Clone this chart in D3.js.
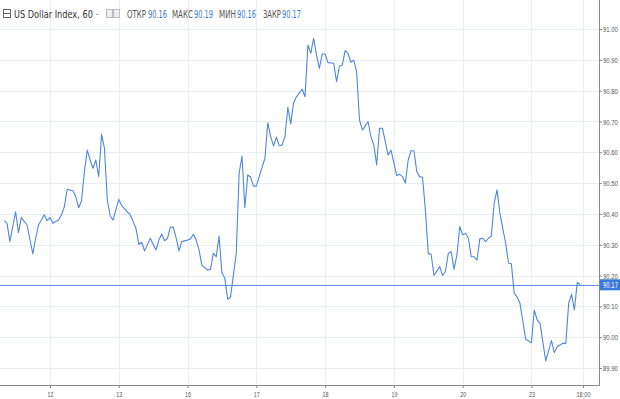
<!DOCTYPE html>
<html>
<head>
<meta charset="utf-8">
<script src="https://cdn.jsdelivr.net/npm/d3@7"></script>
<style>
  body { margin: 0; background: #fff; }
  svg { display: block; font-family: "DejaVu Sans", "Liberation Sans", sans-serif; }
</style>
</head>
<body>
<svg id="chart" width="620" height="399"></svg>
<script>
// hourly bars, index 0 = first bar on screen
const bars = [0, 1, 2, 4, 5, 6, 8, 10, 11, 12, 14, 15, 16, 17, 19, 20, 21, 22, 24, 25,
  26, 27, 28, 29, 30, 31, 32, 33, 34, 35, 36, 37, 38, 40, 41, 43, 44, 46, 47, 48,
  49, 51, 53, 54, 55, 56, 57, 58, 59, 60, 61, 62, 64, 65, 66, 67, 68, 69, 71, 72,
  73, 74, 75, 76, 77, 78, 79, 81, 82, 83, 84, 85, 86, 87, 88, 89, 91, 92, 93, 94,
  95, 96, 97, 98, 99, 100, 101, 102, 104, 105, 106, 107, 108, 109, 110, 111, 112, 113, 115, 116,
  117, 118, 119, 120, 121, 122, 123, 124, 125, 127, 128, 129, 130, 131, 132, 134, 135, 137, 138, 139,
  140, 141, 142, 143, 144, 145, 146, 147, 148, 149, 150, 152, 153, 154, 155, 156, 157, 158, 159, 160,
  161, 162, 163, 164, 165, 166, 167, 168, 169, 170, 171, 172, 173, 175, 176, 177, 178, 179, 180, 182,
  184, 185, 186, 187, 189, 191, 192, 193, 195, 196, 197, 198, 199, 200, 201];
const prices = [90.378, 90.370, 90.310, 90.407, 90.339, 90.388, 90.364, 90.270, 90.321, 90.364, 90.397, 90.378, 90.388, 90.370, 90.380, 90.397, 90.423, 90.480, 90.475, 90.456,
  90.420, 90.442, 90.537, 90.607, 90.575, 90.548, 90.575, 90.521, 90.658, 90.613, 90.445, 90.394, 90.380, 90.447, 90.427, 90.407, 90.397, 90.353, 90.301, 90.308,
  90.280, 90.321, 90.283, 90.315, 90.335, 90.313, 90.321, 90.357, 90.357, 90.323, 90.280, 90.310, 90.315, 90.319, 90.334, 90.315, 90.283, 90.234, 90.218, 90.220,
  90.272, 90.261, 90.328, 90.209, 90.191, 90.123, 90.131, 90.272, 90.532, 90.588, 90.420, 90.526, 90.520, 90.490, 90.490, 90.521, 90.580, 90.696, 90.651, 90.621,
  90.649, 90.621, 90.624, 90.651, 90.746, 90.692, 90.761, 90.780, 90.805, 90.780, 90.948, 90.921, 90.970, 90.916, 90.872, 90.919, 90.919, 90.891, 90.889, 90.829,
  90.880, 90.883, 90.930, 90.921, 90.892, 90.899, 90.861, 90.705, 90.672, 90.699, 90.651, 90.624, 90.559, 90.678, 90.678, 90.591, 90.607, 90.524, 90.529, 90.521,
  90.500, 90.575, 90.605, 90.605, 90.537, 90.521, 90.519, 90.413, 90.272, 90.269, 90.200, 90.229, 90.200, 90.213, 90.272, 90.277, 90.220, 90.267, 90.359, 90.332,
  90.337, 90.321, 90.261, 90.261, 90.250, 90.319, 90.321, 90.310, 90.321, 90.328, 90.434, 90.478, 90.402, 90.305, 90.240, 90.238, 90.142, 90.131, 90.110, 89.993,
  89.982, 90.088, 90.056, 90.045, 89.923, 89.989, 89.950, 89.969, 89.980, 89.980, 90.110, 90.139, 90.088, 90.178, 90.170];

const tickBars = [16, 40, 64, 88, 112, 136, 160, 184, 202];
const tickLabels = ["12", "13", "16", "17", "18", "19", "20", "23", "18:00"];
const priceTicks = [89.9, 90.0, 90.1, 90.2, 90.3, 90.4, 90.5, 90.6, 90.7, 90.8, 90.9, 91.0];

const symbol = "US Dollar Index, 60";
const ohlcNames = ["ОТКР", "МАКС", "МИН", "ЗАКР"];
const ohlcValues = [90.16, 90.19, 90.16, 90.17];
const lastPrice = 90.17;

const W = 620, H = 399;
const axisX = 599, axisY = 385;
const lineColor = "#4f86df";

let svg = d3.select("#chart");

let sx = d3.scaleLinear().domain([16, 202]).range([50, 583]);
let sy = d3.scaleLinear().domain([89.9, 91.0]).range([368, 29]);

// squeeze text horizontally into the narrow widths the reference uses
function fit(sel, w) {
  sel.each(function() {
    let node = this;
    let nat = node.getComputedTextLength();
    let target = typeof w === 'function' ? w(node) : w;
    if (nat <= target) return;
    let k = target / nat;
    let x = +(node.getAttribute('x') || 0);
    d3.select(node).attr('transform', `translate(${x},0) scale(${k},1) translate(${-x},0)`);
  });
}

// grid
let grid = svg.append("g").attr("class", "grid");
grid.selectAll("line.v").data(tickBars).join("line")
  .attr("class", "v")
  .attr("x1", d => Math.round(sx(d)) + 0.5).attr("x2", d => Math.round(sx(d)) + 0.5)
  .attr("y1", 0).attr("y2", axisY)
  .attr("stroke", "#e9eef5");
grid.selectAll("line.h").data(priceTicks).join("line")
  .attr("class", "h")
  .attr("x1", 0).attr("x2", axisX)
  .attr("y1", d => Math.round(sy(d)) + 0.5).attr("y2", d => Math.round(sy(d)) + 0.5)
  .attr("stroke", "#e9eef5");

// last price line
svg.append("line")
  .attr("x1", 0).attr("x2", axisX)
  .attr("y1", Math.round(sy(lastPrice)) + 0.5).attr("y2", Math.round(sy(lastPrice)) + 0.5)
  .attr("stroke", "#5b93ee").attr("stroke-width", 1);

// price line
let pts = bars.map((b, i) => [b, prices[i]]);
let line = d3.line().x(p => sx(p[0])).y(p => sy(p[1]));
svg.append("path")
  .attr("d", line(pts))
  .attr("fill", "none")
  .attr("stroke", lineColor)
  .attr("stroke-width", 1.1)
  .attr("stroke-linejoin", "round");

// axes
let yAxis = d3.axisRight(sy).tickValues(priceTicks).tickFormat(d3.format(".2f"))
  .tickSize(3).tickPadding(1);
let gy = svg.append("g").attr("transform", `translate(${axisX},0)`).call(yAxis);
gy.select(".domain").remove();
gy.selectAll("line").attr("stroke", "#888");
gy.selectAll("text").attr("fill", "#555").style("font-size", "8px").call(fit, 15);

let xAxis = d3.axisBottom(sx).tickValues(tickBars).tickFormat((d, i) => tickLabels[i])
  .tickSize(3).tickPadding(3);
let gx = svg.append("g").attr("transform", `translate(0,${axisY})`).call(xAxis);
gx.select(".domain").remove();
gx.selectAll("line").attr("stroke", "#888");
gx.selectAll("text").attr("fill", "#555").style("font-size", "8px")
  .call(fit, node => node.textContent.length > 2 ? 14 : 6);

svg.append("line").attr("x1", axisX + 0.5).attr("x2", axisX + 0.5).attr("y1", 0).attr("y2", axisY + 1)
  .attr("stroke", "#8a8a8a");
svg.append("line").attr("x1", 0).attr("x2", axisX + 1).attr("y1", axisY + 0.5).attr("y2", axisY + 0.5)
  .attr("stroke", "#8a8a8a");

// last price label
let ly = sy(lastPrice);
svg.append("rect").attr("x", axisX + 1).attr("y", ly - 5.5).attr("width", W - axisX - 1).attr("height", 11)
  .attr("fill", "#3a78dc");
svg.append("text").attr("x", axisX + 4).attr("y", ly + 3)
  .attr("fill", "#fff").style("font-size", "8px").text(lastPrice.toFixed(2)).call(fit, 15);

// header
let hdr = svg.append("g");
hdr.append("rect").attr("x", 3.5).attr("y", 9.5).attr("width", 7).attr("height", 8)
  .attr("fill", "none").attr("stroke", "#666");
hdr.append("line").attr("x1", 4).attr("x2", 10).attr("y1", 13.5).attr("y2", 13.5).attr("stroke", "#666");
hdr.append("text").attr("x", 14).attr("y", 18).attr("fill", "#333")
  .style("font-size", "11px").text(symbol).call(fit, 79);
hdr.append("line").attr("x1", 96).attr("x2", 99).attr("y1", 14.5).attr("y2", 14.5).attr("stroke", "#aaa");
[106, 113].forEach(x => {
  hdr.append("rect").attr("x", x + 0.5).attr("y", 9.5).attr("width", 6).attr("height", 8)
    .attr("fill", "#eee").attr("stroke", "#bbb");
});
const nameX = [127, 172, 219, 263];
const nameW = [19, 21, 17, 18];
const valX = [148, 194, 237, 282];
ohlcNames.forEach((n, i) => {
  hdr.append("text").attr("x", nameX[i]).attr("y", 18).attr("fill", "#555")
    .style("font-size", "10px").text(n).call(fit, nameW[i]);
  hdr.append("text").attr("x", valX[i]).attr("y", 18).attr("fill", "#3a78dc")
    .style("font-size", "10px").text(ohlcValues[i].toFixed(2)).call(fit, 19);
});
</script>
</body>
</html>
